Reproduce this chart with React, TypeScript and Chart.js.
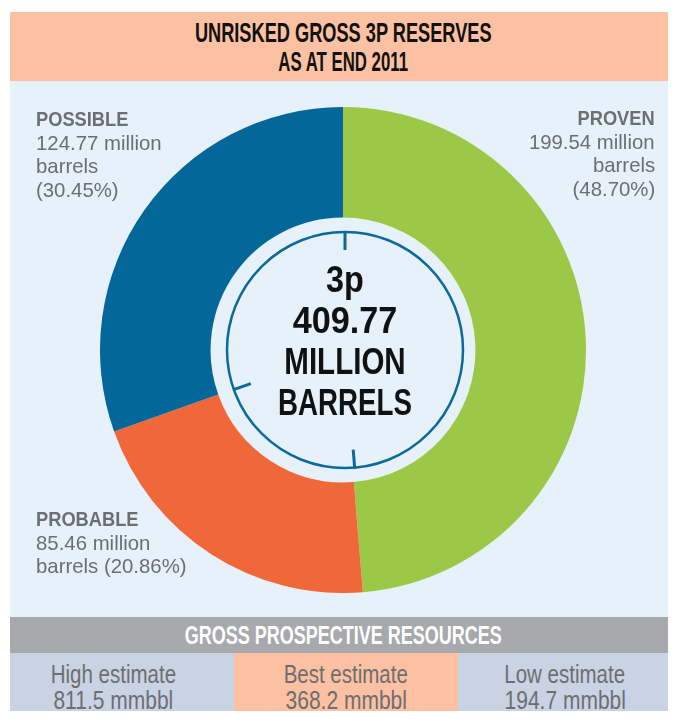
import React, { useEffect, useRef } from "react";
import { Chart, registerables } from "chart.js";

Chart.register(...registerables);

const categories = ["PROVEN", "PROBABLE", "POSSIBLE"];
const reserves = [199.54, 85.46, 124.77];
const shares = ["48.70%", "20.86%", "30.45%"];
const sliceColors = ["#9BC846", "#F0673A", "#03679A"];
const estimateNames = ["High estimate", "Best estimate", "Low estimate"];
const estimateValues = ["811.5", "368.2", "194.7"];
const estimateColors = ["#C9D3E4", "#FCC1A2", "#C9D3E4"];

const FONT = '"Liberation Sans", Arial, "Helvetica", sans-serif';
const GREY_TEXT = "#6D6E71";
const RING = "#0B6A9C";

const ringPlugin = {
  id: "centerRing",
  afterDatasetsDraw(chart: any) {
    const meta = chart.getDatasetMeta(0);
    if (!meta.data.length) return;
    const { x, y } = meta.data[0];
    const ctx = chart.ctx;
    const R = 118;
    const cx = x + 2;
    ctx.save();
    ctx.strokeStyle = RING;
    ctx.lineWidth = 2.5;
    ctx.beginPath();
    ctx.arc(cx, y, R, 0, Math.PI * 2);
    ctx.stroke();
    ctx.lineWidth = 3;
    ctx.beginPath();
    meta.data.forEach((a: any) => {
      const ang = a.startAngle;
      ctx.moveTo(cx + (R + 1) * Math.cos(ang), y + (R + 1) * Math.sin(ang));
      ctx.lineTo(cx + (R - 18) * Math.cos(ang), y + (R - 18) * Math.sin(ang));
    });
    ctx.stroke();
    ctx.restore();
  },
};

function Donut() {
  const ref = useRef<HTMLCanvasElement | null>(null);
  useEffect(() => {
    if (!ref.current) return;
    const chart = new Chart(ref.current, {
      type: "doughnut",
      data: {
        labels: categories,
        datasets: [
          {
            data: reserves,
            backgroundColor: sliceColors,
            borderWidth: 0,
          },
        ],
      },
      options: {
        responsive: false,
        animation: false,
        cutout: "54.5%",
        layout: { padding: 0 },
        plugins: {
          legend: { display: false },
          tooltip: { enabled: false },
          title: { display: false },
        },
      },
      plugins: [ringPlugin],
    });
    return () => chart.destroy();
  }, []);
  return (
    <canvas
      ref={ref}
      width={486}
      height={486}
      style={{ position: "absolute", left: 100, top: 107, width: 486, height: 486 }}
    />
  );
}

const abs = (s: React.CSSProperties): React.CSSProperties => ({ position: "absolute", ...s });

function Line({
  text,
  k,
  align = "left",
  bold = false,
}: {
  text: string;
  k: number;
  align?: "left" | "center" | "right";
  bold?: boolean;
}) {
  return (
    <div style={{ textAlign: align, whiteSpace: "nowrap" }}>
      <span
        style={{
          display: "inline-block",
          transform: `scaleX(${k})`,
          transformOrigin: align === "left" ? "left center" : align === "right" ? "right center" : "center center",
          fontWeight: bold ? 700 : 400,
        }}
      >
        {text}
      </span>
    </div>
  );
}

export default function App() {
  const total = reserves.reduce((a, b) => a + b, 0).toFixed(2);
  const labelStyle: React.CSSProperties = {
    fontFamily: FONT,
    fontSize: 21,
    lineHeight: "23.5px",
    color: GREY_TEXT,
  };
  const kB = 0.87;
  const kR = 0.97;
  return (
    <div style={{ position: "relative", width: 676, height: 719, margin: -8, overflow: "hidden", background: "#fff" }}>
      {/* title */}
      <div style={abs({ left: 10, top: 12, width: 666, height: 69, background: "#FCC1A2" })} />
      <div
        style={abs({
          left: 10,
          top: 18,
          width: 666,
          fontFamily: FONT,
          fontSize: 28,
          lineHeight: "29px",
          color: "#111",
        })}
      >
        <Line text="UNRISKED GROSS 3P RESERVES" k={0.65} align="center" bold />
        <Line text="AS AT END 2011" k={0.6} align="center" bold />
      </div>
      {/* main panel */}
      <div style={abs({ left: 10, top: 81, width: 666, height: 536, background: "#E6F1FA" })} />
      <Donut />
      {/* center text */}
      <div
        style={abs({
          left: 245,
          top: 259,
          width: 200,
          fontFamily: FONT,
          fontSize: 36,
          lineHeight: "41px",
          color: "#111",
        })}
      >
        <Line text="3p" k={0.9} align="center" bold />
        <Line text={total} k={0.95} align="center" bold />
        <Line text="MILLION" k={0.82} align="center" bold />
        <Line text="BARRELS" k={0.77} align="center" bold />
      </div>
      {/* labels */}
      <div style={abs({ left: 36, top: 107, width: 220, ...labelStyle })}>
        <Line text={categories[2]} k={kB} bold />
        <Line text={`${reserves[2].toFixed(2)} million`} k={kR} />
        <Line text="barrels" k={kR} />
        <Line text={`(${shares[2]})`} k={kR} />
      </div>
      <div style={abs({ left: 435, top: 106, width: 220, ...labelStyle })}>
        <Line text={categories[0]} k={kB} align="right" bold />
        <Line text={`${reserves[0].toFixed(2)} million`} k={kR} align="right" />
        <Line text="barrels" k={kR} align="right" />
        <Line text={`(${shares[0]})`} k={kR} align="right" />
      </div>
      <div style={abs({ left: 36, top: 507, width: 220, ...labelStyle })}>
        <Line text={categories[1]} k={kB} bold />
        <Line text={`${reserves[1].toFixed(2)} million`} k={kR} />
        <Line text={`barrels (${shares[1]})`} k={kR} />
      </div>
      {/* prospective resources */}
      <div
        style={abs({
          left: 10,
          top: 617,
          width: 666,
          height: 36,
          background: "#A7A9AC",
          fontFamily: FONT,
          fontSize: 25,
          lineHeight: "36px",
          color: "#fff",
        })}
      >
        <Line text="GROSS PROSPECTIVE RESOURCES" k={0.72} align="center" bold />
      </div>
      {estimateNames.map((name, i) => {
        const lefts = [10, 234, 458];
        const widths = [224, 224, 218];
        const shift = [-9, 0, -2];
        return (
          <div
            key={name}
            style={abs({
              left: lefts[i],
              top: 653,
              width: widths[i],
              height: 66,
              background: estimateColors[i],
            })}
          >
            <div
              style={{
                position: "relative",
                left: shift[i],
                paddingTop: 8,
                fontFamily: FONT,
                fontSize: 25,
                lineHeight: "26px",
                color: GREY_TEXT,
              }}
            >
              <Line text={name} k={0.82} align="center" />
              <Line text={`${estimateValues[i]} mmbbl`} k={0.84} align="center" />
            </div>
          </div>
        );
      })}
    </div>
  );
}
